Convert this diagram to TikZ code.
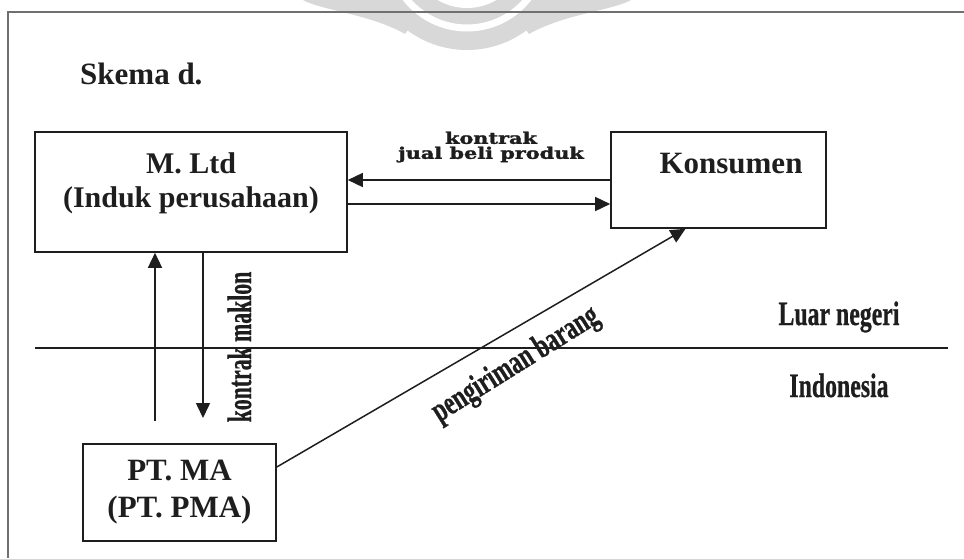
\documentclass[tikz,border=0pt]{standalone}
\usepackage{fontspec}
\setmainfont{Liberation Serif}
\newfontfamily\slabfont{DejaVu Serif Bold}[FakeBold=1.6]
\newfontfamily\condfont{Liberation Serif Bold}[FakeBold=0.8]
\usetikzlibrary{arrows.meta}
\definecolor{ink}{HTML}{1E1E1E}
\definecolor{seal}{HTML}{D8D8D8}
\definecolor{rule}{HTML}{707070}
\begin{document}
\begin{tikzpicture}[x=1pt,y=-1pt,
  box/.style={draw=ink, line width=1.6pt, inner sep=0pt},
  link/.style={draw=ink, line width=1.5pt},
  arr/.style={link, -{Triangle[length=15pt,width=14pt]}},
  heading/.style={font=\fontsize{30}{34}\selectfont\bfseries, text=ink, align=center, inner sep=0pt},
  narrow/.style={font=\condfont\fontsize{34}{34}\selectfont, text=ink, inner sep=0pt},
  slab/.style={font=\slabfont\fontsize{16}{15}\selectfont, text=ink, align=center, inner sep=0pt}]
\useasboundingbox (0,0) rectangle (964,558);

% faint seal behind the page frame
\begin{scope}
  \clip (0,0) rectangle (964,558);
  \fill[seal] (303,0) .. controls (320,10) and (370,14) .. (405,34) -- (430,0) -- cycle;
  \fill[seal] (631,0) .. controls (614,10) and (564,14) .. (529,34) -- (504,0) -- cycle;
  \fill[seal] (467,-50) circle (100);
  \draw[white, line width=7pt] (467,-50) circle (78);
  \fill[white] (467,-50) circle (58);
\end{scope}

% page frame
\draw[rule, line width=2pt] (964,11.5) -- (7.5,11.5) -- (7.5,558);

% title
\node[font=\fontsize{31}{31}\selectfont\bfseries, text=ink, anchor=base west, inner sep=0pt] (title) at (80,84) {Skema d.};

% boxes
\node[box, minimum width=312pt, minimum height=120pt] (mltd) at (191,192) {};
\node[heading] (mltdtext) at (191,183) {M. Ltd\\(Induk perusahaan)};
\node[box, minimum width=215pt, minimum height=96pt] (kons) at (718.5,180) {};
\node[heading, font=\fontsize{31}{31}\selectfont\bfseries] (konstext) at (731,164) {Konsumen};
\node[box, minimum width=193pt, minimum height=97pt, heading, font=\fontsize{31}{37}\selectfont\bfseries] (ptma) at (179.5,492.5) {PT. MA\\(PT. PMA)};

% sale contract between parent and consumer
\draw[arr] (kons.west) -- (kons.west -| mltd.east);
\draw[arr] ([yshift=-24pt]kons.west -| mltd.east) -- ([yshift=-24pt]kons.west);
\node[slab] (deal) at (491,147) {\scalebox{1.3}[1]{kontrak}\\\scalebox{1.3}[1]{jual beli produk}};

% toll manufacturing contract
\coordinate (upstart) at (155,421);
\coordinate (dnend) at (203,418);
\draw[arr] (upstart) -- (upstart |- mltd.south);
\draw[arr] (dnend |- mltd.south) -- (dnend);
\node[narrow, rotate=90, anchor=base] (maklon) at (251,347) {\scalebox{0.64}[1]{kontrak maklon}};

% border between abroad and Indonesia
\coordinate (bleft) at (35,348);
\coordinate (bright) at (948,348);
\draw[link] (bleft) -- (bright);
\node[narrow, anchor=base] (luar) at (839,325) {\scalebox{0.7}[1]{Luar negeri}};
\node[narrow, anchor=base] (indo) at (839,397) {\scalebox{0.7}[1]{Indonesia}};

% shipment of goods
\draw[arr] ([yshift=25.5pt]ptma.east) -- ([xshift=-33pt]kons.south);
\node[narrow, rotate=32] (kirim) at (516,365) {\scalebox{0.68}[1]{pengiriman barang}};
\end{tikzpicture}
\end{document}
